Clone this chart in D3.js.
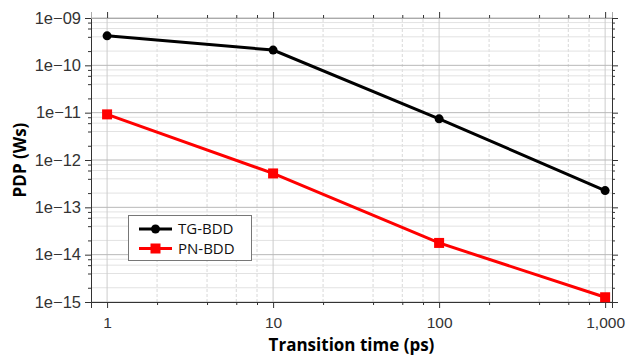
<!DOCTYPE html>
<html>
<head>
<meta charset="utf-8">
<script src="https://cdn.jsdelivr.net/npm/d3@7"></script>
<style>
  body { margin: 0; background: #fff; }
  svg { display: block; font-family: "Open Sans", "Noto Sans", sans-serif; }
</style>
</head>
<body>
<div id="chart"></div>
<script>
// transition times (ps)
const transitionTimes = [1, 10, 100, 1000];
// PDP values (Ws)
const tgBdd = [4.2e-10, 2.1e-10, 7.4e-12, 2.26e-13];
const pnBdd = [9.2e-12, 5.2e-13, 1.77e-14, 1.26e-15];
const seriesNames = ["TG-BDD", "PN-BDD"];
const seriesColors = ["#000000", "#ff0000"];
const xTickValues = [1, 10, 100, 1000];
const yTickValues = [1e-9, 1e-10, 1e-11, 1e-12, 1e-13, 1e-14, 1e-15];
const yTickLabels = ["1e\u221209", "1e\u221210", "1e\u221211", "1e\u221212", "1e\u221213", "1e\u221214", "1e\u221215"];

const width = 627, height = 355;
const margin = { top: 18, right: 15, bottom: 53, left: 91 };

const svg = d3.select('#chart').append('svg')
    .attr('width', width)
    .attr('height', height);

const x = d3.scaleLog()
    .domain([0.8, 1100])
    .range([margin.left, width - margin.right]);

const y = d3.scaleLog()
    .domain([1e-15, 1e-9])
    .range([height - margin.bottom, margin.top]);

// minor ticks at 2,4,6,8 of each decade
const xMinor = [];
[1, 10, 100].forEach(d => [2, 4, 6, 8].forEach(m => xMinor.push(d * m)));
const yMinor = [];
yTickValues.slice(1).forEach(d => [2, 4, 6, 8].forEach(m => yMinor.push(d * m)));

const x0 = margin.left, x1 = width - margin.right;
const y0 = height - margin.bottom, y1 = margin.top;

// grid
const grid = svg.append('g');
grid.selectAll('.vminor').data(xMinor).enter().append('line')
    .attr('x1', d => x(d)).attr('x2', d => x(d))
    .attr('y1', y0).attr('y2', y1)
    .attr('stroke', '#d8d8d8').attr('stroke-dasharray', '3,2');
grid.selectAll('.hminor').data(yMinor).enter().append('line')
    .attr('y1', d => y(d)).attr('y2', d => y(d))
    .attr('x1', x0).attr('x2', x1)
    .attr('stroke', '#e2e2e2');
grid.selectAll('.vmajor').data(xTickValues).enter().append('line')
    .attr('x1', d => x(d)).attr('x2', d => x(d))
    .attr('y1', y0).attr('y2', y1)
    .attr('stroke', '#cccccc');
grid.selectAll('.hmajor').data(yTickValues).enter().append('line')
    .attr('y1', d => y(d)).attr('y2', d => y(d))
    .attr('x1', x0).attr('x2', x1)
    .attr('stroke', '#b8b8b8');

// axes
const fmt = d3.format(',');
const xAxis = d3.axisBottom(x).tickValues(xTickValues).tickFormat(fmt).tickSize(6).tickPadding(9);
const yAxis = d3.axisLeft(y).tickValues(yTickValues).tickFormat((d, i) => yTickLabels[i]).tickSize(6).tickPadding(4);

function styleAxis(g, size) {
    g.select('.domain').attr('stroke', '#333');
    g.selectAll('.tick line').attr('stroke', '#333');
    g.selectAll('text').attr('fill', '#333').style('font-size', size || '15px');
}

svg.append('g').attr('transform', `translate(0,${y0})`).call(xAxis).call(styleAxis, '15.5px');
svg.append('g').attr('transform', `translate(${x0},0)`).call(yAxis).call(styleAxis, '16.5px');

// mirrored ticks top/right
svg.append('g').attr('transform', `translate(0,${y1})`)
    .call(d3.axisTop(x).tickValues(xTickValues).tickFormat('').tickSize(6))
    .call(g => { g.select('.domain').attr('stroke', '#aaa'); g.selectAll('.tick line').attr('stroke', '#333'); });
svg.append('g').attr('transform', `translate(${x1},0)`)
    .call(d3.axisRight(y).tickValues(yTickValues).tickFormat('').tickSize(6))
    .call(styleAxis);

// minor ticks on all sides
svg.append('g').attr('transform', `translate(0,${y0})`)
    .call(d3.axisBottom(x).tickValues(xMinor).tickFormat('').tickSize(3))
    .call(g => { g.select('.domain').remove(); g.selectAll('.tick line').attr('stroke', '#333'); });
svg.append('g').attr('transform', `translate(0,${y1})`)
    .call(d3.axisTop(x).tickValues(xMinor).tickFormat('').tickSize(3))
    .call(g => { g.select('.domain').remove(); g.selectAll('.tick line').attr('stroke', '#333'); });
svg.append('g').attr('transform', `translate(${x0},0)`)
    .call(d3.axisLeft(y).tickValues(yMinor).tickFormat('').tickSize(3))
    .call(g => { g.select('.domain').remove(); g.selectAll('.tick line').attr('stroke', '#333'); });
svg.append('g').attr('transform', `translate(${x1},0)`)
    .call(d3.axisRight(y).tickValues(yMinor).tickFormat('').tickSize(3))
    .call(g => { g.select('.domain').remove(); g.selectAll('.tick line').attr('stroke', '#333'); });

// axis titles
svg.append('text')
    .attr('x', (x0 + x1) / 2).attr('y', 351)
    .attr('text-anchor', 'middle')
    .style('font-size', '17px').style('font-weight', 'bold')
    .text('Transition time (ps)');
svg.append('text')
    .attr('transform', `translate(26,${(y0 + y1) / 2}) rotate(-90)`)
    .attr('text-anchor', 'middle')
    .style('font-size', '17px').style('font-weight', 'bold')
    .text('PDP (Ws)');

// series
const line = d3.line().x(d => x(d[0])).y(d => y(d[1]));
const tgData = transitionTimes.map((t, i) => [t, tgBdd[i]]);
const pnData = transitionTimes.map((t, i) => [t, pnBdd[i]]);

svg.append('path').datum(tgData).attr('d', line)
    .attr('fill', 'none').attr('stroke', seriesColors[0]).attr('stroke-width', 3);
svg.selectAll('.tgpt').data(tgData).enter().append('circle')
    .attr('cx', d => x(d[0])).attr('cy', d => y(d[1])).attr('r', 4.5)
    .attr('fill', seriesColors[0]);

svg.append('path').datum(pnData).attr('d', line)
    .attr('fill', 'none').attr('stroke', seriesColors[1]).attr('stroke-width', 3);
svg.selectAll('.pnpt').data(pnData).enter().append('rect')
    .attr('x', d => x(d[0]) - 5).attr('y', d => y(d[1]) - 5)
    .attr('width', 10).attr('height', 10)
    .attr('fill', seriesColors[1]);

// legend
const legend = svg.append('g');
legend.append('rect')
    .attr('x', 128.5).attr('y', 215.5).attr('width', 123).attr('height', 45)
    .attr('fill', '#fff').attr('stroke', '#777');
seriesNames.forEach((name, i) => {
    const ly = 229 + i * 19.5;
    legend.append('line')
        .attr('x1', 139).attr('x2', 172).attr('y1', ly).attr('y2', ly)
        .attr('stroke', seriesColors[i]).attr('stroke-width', 3);
    if (i === 0) {
        legend.append('circle').attr('cx', 155.5).attr('cy', ly).attr('r', 4.5).attr('fill', seriesColors[i]);
    } else {
        legend.append('rect').attr('x', 150.5).attr('y', ly - 5).attr('width', 10).attr('height', 10).attr('fill', seriesColors[i]);
    }
    legend.append('text')
        .attr('x', 178).attr('y', ly).attr('dy', '0.35em')
        .style('font-size', '15px').attr('fill', '#111')
        .text(name);
});
</script>
</body>
</html>
